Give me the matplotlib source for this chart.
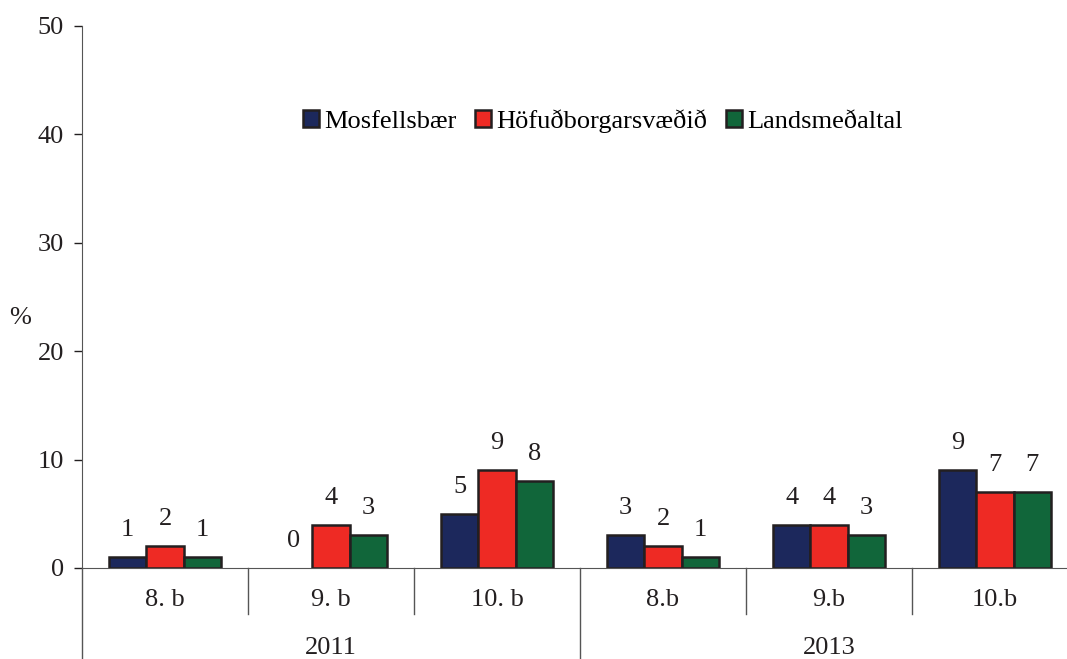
import numpy as np
import matplotlib
matplotlib.use("Agg")
import matplotlib.pyplot as plt

plt.rcParams['font.family'] = ['Liberation Serif', 'DejaVu Serif']

years = ["2011", "2013"]
grades = ["8. b", "9. b", "10. b", "8.b", "9.b", "10.b"]
series = ["Mosfellsbær", "Höfuðborgarsvæðið", "Landsmeðaltal"]
mosfellsbaer = [1, 0, 5, 3, 4, 9]
hofudborg = [2, 4, 9, 2, 4, 7]
landsmedaltal = [1, 3, 8, 1, 3, 7]
colors = ["#1c285c", "#ee2a24", "#11663a"]

fs = 19
fig = plt.figure(figsize=(10.67, 6.59), dpi=100)
ax = fig.add_axes([82/1067, 1-568/659, (1078-82)/1067, (568-26)/659])

x = np.arange(len(grades))
w = 0.225
vals = [mosfellsbaer, hofudborg, landsmedaltal]
for i, (v, c, name) in enumerate(zip(vals, colors, series)):
    pos = x + (i-1)*w
    lws = [1.8 if val > 0 else 0 for val in v]
    ax.bar(pos, v, width=w, color=c, edgecolor="#231f20", linewidth=lws,
           label=name, zorder=3)
    for px, py in zip(pos, v):
        ax.annotate(str(py), (px, py), xytext=(0, 19.5), textcoords="offset points",
                    ha="center", va="center", fontsize=fs, color="#231f20")

ax.set_xlim(-0.5, len(grades)-0.5)
ax.set_ylim(0, 50)
ax.set_yticks(np.arange(0, 51, 10))
ax.tick_params(axis='y', length=6, width=1, pad=7, labelsize=fs, colors="#231f20")
ax.set_xticks([])
for s in ["top", "right"]:
    ax.spines[s].set_visible(False)
ax.spines["left"].set_color("#555555")
ax.spines["bottom"].set_color("#555555")
ax.spines["bottom"].set_zorder(4)

# category axis below
trans = ax.get_xaxis_transform()
h_short = -46/542
h_long = -91/542
for b in [0.5, 1.5, 3.5, 4.5]:
    ax.plot([b, b], [0, h_short], transform=trans, color="#555555", lw=1, clip_on=False)
for b in [-0.5, 2.5, 5.5]:
    ax.plot([b, b], [0, h_long], transform=trans, color="#555555", lw=1, clip_on=False)
for xi, g in zip(x, grades):
    ax.text(xi, -32/542, g, transform=trans, ha="center", va="center", fontsize=fs, color="#231f20")
for j, y in enumerate(years):
    ax.text(1 + 3*j, -80/542, y, transform=trans, ha="center", va="center", fontsize=fs, color="#231f20")

fig.text(20/1067, 1-318/659, "%", ha="center", va="center", fontsize=fs, color="#231f20")

ax.legend(loc="center", bbox_to_anchor=(603/1067, 1-121/659), bbox_transform=fig.transFigure,
          ncol=3, frameon=False, fontsize=fs, handlelength=0.6, handleheight=0.6,
          handletextpad=0.2, columnspacing=0.7)

fig.savefig("out.png", dpi=100)
